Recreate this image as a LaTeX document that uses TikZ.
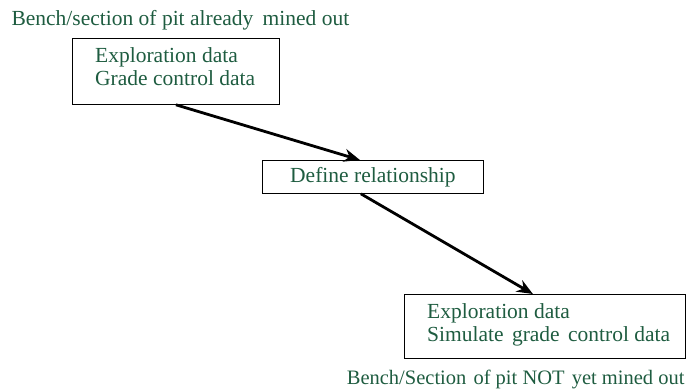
\documentclass[tikz,border=0pt]{standalone}
\usepackage{fontspec}
\setmainfont{Liberation Serif}
\usetikzlibrary{positioning,arrows.meta}

\definecolor{benchgreen}{HTML}{1E5C40}

\begin{document}
\begin{tikzpicture}[x=1pt,y=-1pt,
    every node/.style={font=\fontsize{21.5}{23}\selectfont,text=benchgreen},
    box/.style={draw=black,line width=0.8pt,inner sep=0pt},
    boxtext/.style={align=left,inner sep=0pt,anchor=north west},
    flow/.style={line width=2.8pt,-{Stealth[length=16pt,width=13pt]}}]

    \useasboundingbox (0,0) rectangle (690,390);

    % mined out part of the pit
    \node[anchor=base west] (minedlabel) at (8,26)
        {Bench/section of pit already\hspace{4pt} mined out};
    \node[box,minimum width=207,minimum height=66,anchor=north west]
        (minedbox) at (72,38) {};
    \node[boxtext] (minedtext) at ([xshift=23,yshift=-9]minedbox.north west)
        {Exploration data\\Grade control data};

    % relationship between the two data sets
    \node[box,minimum width=221,minimum height=33,anchor=north west]
        (relbox) at (262,160) {Define relationship};

    % part of the pit still to be mined
    \node[box,minimum width=281,minimum height=64,anchor=north west]
        (futurebox) at (404,294) {};
    \node[boxtext] (futuretext) at ([xshift=23,yshift=-9]futurebox.north west)
        {Exploration data\\Simulate\hspace{3pt} grade\hspace{3pt} control data};
    \node[anchor=base east,font=\fontsize{20.5}{23}\selectfont] (futurelabel)
        at (688,384) {Bench/Section\hspace{2pt} of pit NOT\hspace{2pt} yet mined out};

    \draw[flow] (minedbox.south) -- ([xshift=-13]relbox.north);
    \draw[flow] ([xshift=-12]relbox.south) -- ([xshift=-12]futurebox.north);

\end{tikzpicture}
\end{document}
